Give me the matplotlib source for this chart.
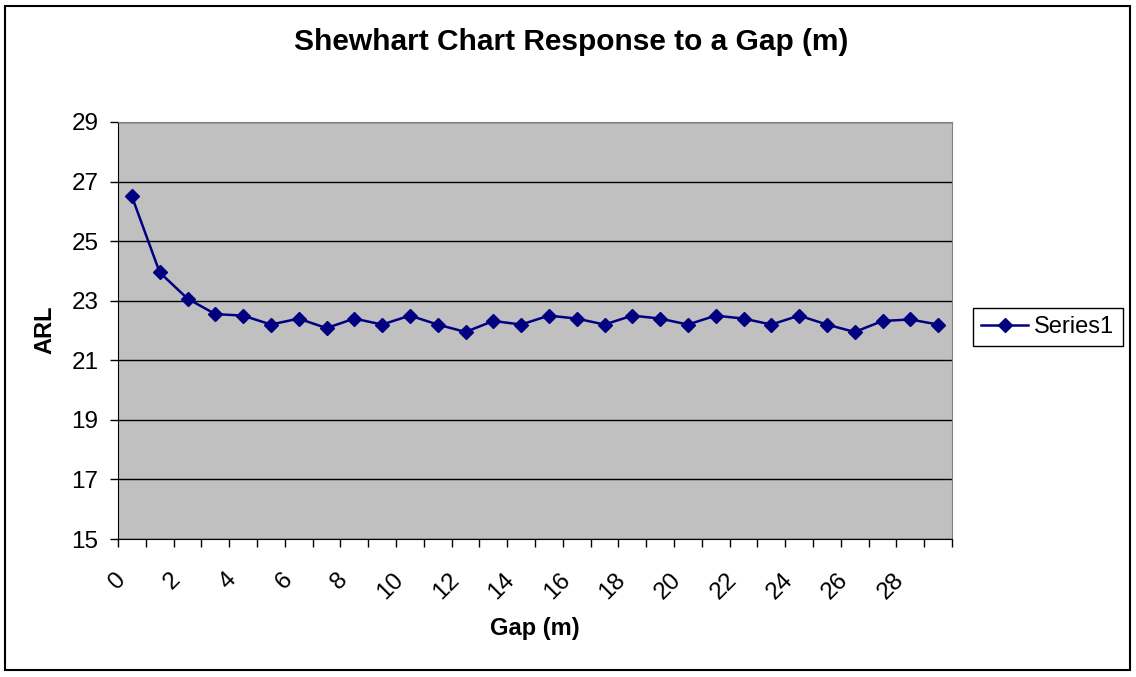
import matplotlib.pyplot as plt
from matplotlib.patches import Rectangle
from matplotlib.transforms import ScaledTranslation

plt.rcParams['font.family'] = ['Liberation Sans', 'DejaVu Sans']

# ARL for each gap m = 0..29
gap = list(range(30))
arl = [26.5, 23.95, 23.07, 22.55, 22.5, 22.2, 22.4, 22.08, 22.4, 22.2,
       22.5, 22.2, 21.95, 22.32, 22.2, 22.5, 22.4, 22.2, 22.5, 22.4,
       22.2, 22.5, 22.4, 22.2, 22.5, 22.2, 21.95, 22.32, 22.37, 22.2]
y_ticks = [15, 17, 19, 21, 23, 25, 27, 29]

fig = plt.figure(figsize=(11.36, 6.77), dpi=100)
ax = fig.add_axes([118 / 1136, 1 - 539 / 677, 834 / 1136, 417 / 677])
ax.set_facecolor('#c0c0c0')

# categories sit in the middle of each slot, like Excel
xpos = [g + 0.5 for g in gap]
ax.plot(xpos, arl, color='#000080', lw=1.8, marker='D', ms=7.5,
        label='Series1', zorder=3)

ax.set_xlim(0, len(gap))
ax.set_ylim(15, 29)
ax.set_yticks(y_ticks)
ax.set_yticklabels([str(t) for t in y_ticks], fontsize=17.5)
ax.yaxis.grid(True, color='black', lw=1)
ax.set_axisbelow(True)

ax.set_xticks(range(len(gap) + 1), minor=False)
ax.set_xticklabels([])
ax.set_xticks(xpos[::2], minor=True)
ax.set_xticklabels([str(g) for g in gap[::2]], minor=True, fontsize=17.5,
                   rotation=45, ha='right', va='center', rotation_mode='anchor')
ax.tick_params(axis='x', which='minor', length=0, pad=27)
ax.tick_params(axis='both', which='major', length=6, width=1, color='black',
               direction='out')
ax.tick_params(axis='y', which='major', pad=8)
for lab in ax.get_xticklabels(minor=True):
    lab.set_transform(lab.get_transform()
                      + ScaledTranslation(-0.1, 0, fig.dpi_scale_trans))

for side in ['top', 'right']:
    ax.spines[side].set_color('#808080')
ax.spines['left'].set_color('black')
ax.spines['bottom'].set_color('black')

fig.text(571 / 1136, 1 - 42 / 677, 'Shewhart Chart Response to a Gap (m)',
         ha='center', va='center', fontsize=21.5, fontweight='bold')
fig.text(535 / 1136, 1 - 628 / 677, 'Gap (m)', ha='center', va='center',
         fontsize=17, fontweight='bold')
fig.text(45 / 1136, 1 - 330 / 677, 'ARL', ha='center', va='center',
         fontsize=17, fontweight='bold', rotation=90)

leg = ax.legend(loc='center left', bbox_to_anchor=(973 / 1136, 1 - 327 / 677),
                bbox_transform=fig.transFigure, fontsize=17, frameon=True,
                fancybox=False, edgecolor='black', framealpha=1,
                borderpad=0.35, handlelength=2.0, handletextpad=0.25,
                borderaxespad=0)
leg.get_frame().set_linewidth(1)

fig.patches.append(Rectangle((5 / 1136, 7 / 677), 1125 / 1136, 664 / 677,
                             transform=fig.transFigure, fill=False,
                             edgecolor='black', lw=1.5))

fig.savefig('out.png', dpi=100)
